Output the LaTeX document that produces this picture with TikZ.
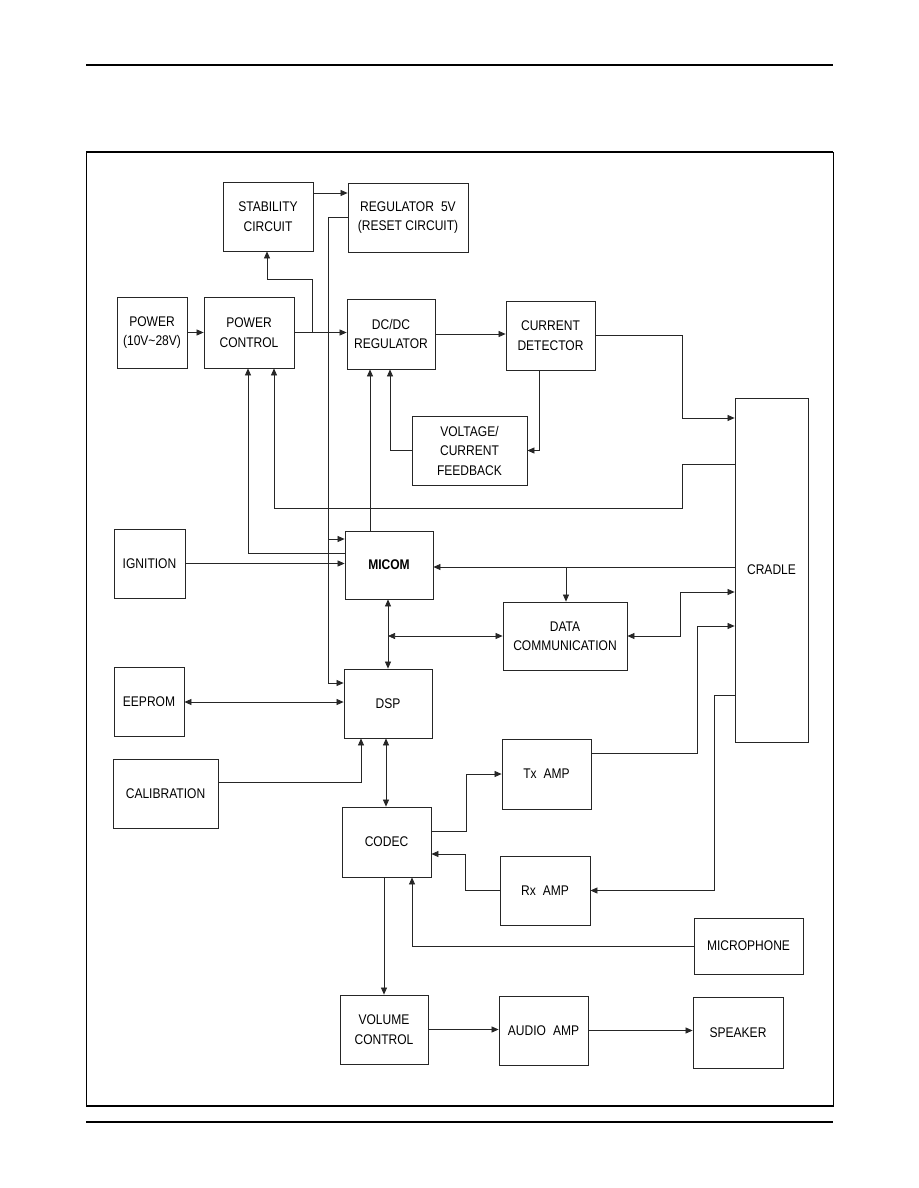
\documentclass[tikz,border=0pt]{standalone}
\usepackage{fontspec}
\setmainfont{Liberation Sans}[FakeStretch=0.86]
\usetikzlibrary{arrows.meta}
\begin{document}
\begin{tikzpicture}[x=1pt,y=-1pt,
  blk/.style={draw=black!85, line width=0.8pt, align=center, inner sep=0pt,
    font=\fontsize{14}{19.5}\selectfont},
  arr/.style={draw=black!85, line width=0.75pt, -{Triangle[length=7pt,width=6pt]}},
  arrb/.style={draw=black!85, line width=0.75pt, {Triangle[length=7pt,width=6pt]}-{Triangle[length=7pt,width=6pt]}},
  ln/.style={draw=black!85, line width=0.75pt}]
\useasboundingbox (0,0) rectangle (918,1188);
% page rules and frame
\draw[line width=1.4pt] (86,65) -- (833,65);
\draw[line width=1.4pt] (86,1122) -- (833,1122);
\draw[line width=1pt] (86,152) rectangle (833,1106);
\draw[line width=2.2pt] (86,152) -- (833,152);
\draw[line width=2.2pt] (86,1106) -- (833,1106);
% blocks
\node[blk, minimum width=90, minimum height=69] (stab) at (268,216.5) {STABILITY\\CIRCUIT};
\node[blk, minimum width=120, minimum height=69] (reg5) at (408,217.5) {REGULATOR\enspace 5V\\(RESET CIRCUIT)};
\node[blk, minimum width=70, minimum height=71] (power) at (152,332.5) {POWER\\(10V\textasciitilde 28V)};
\node[blk, minimum width=90, minimum height=71] (pctl) at (249,332.5) {POWER\\CONTROL};
\node[blk, minimum width=88, minimum height=70] (dcdc) at (391,334) {DC/DC\\REGULATOR};
\node[blk, minimum width=89, minimum height=69] (curdet) at (550.5,335.5) {CURRENT\\DETECTOR};
\node[blk, minimum width=115, minimum height=69] (fb) at (469.5,450.5) {VOLTAGE/\\CURRENT\\FEEDBACK};
\node[blk, minimum width=73, minimum height=344] (cradle) at (771.5,570) {CRADLE};
\node[blk, minimum width=71, minimum height=69] (ign) at (149.5,563.5) {IGNITION};
\node[blk, minimum width=88, minimum height=68] (micom) at (389,565) {\bfseries MICOM};
\node[blk, minimum width=70, minimum height=69] (eeprom) at (149,701.5) {EEPROM};
\node[blk, minimum width=88, minimum height=69] (dsp) at (388,703.5) {DSP};
\node[blk, minimum width=124, minimum height=68] (datac) at (565,636) {DATA\\COMMUNICATION};
\node[blk, minimum width=105, minimum height=69] (calib) at (165.5,793.5) {CALIBRATION};
\node[blk, minimum width=89, minimum height=70] (codec) at (386.5,842) {CODEC};
\node[blk, minimum width=89, minimum height=70] (tx) at (546.5,774) {Tx\enspace AMP};
\node[blk, minimum width=90, minimum height=69] (rx) at (545,890.5) {Rx\enspace AMP};
\node[blk, minimum width=109, minimum height=56] (mic) at (748.5,946) {MICROPHONE};
\node[blk, minimum width=88, minimum height=69] (vol) at (384,1029.5) {VOLUME\\CONTROL};
\node[blk, minimum width=89, minimum height=69] (audio) at (543.5,1030.5) {AUDIO\enspace AMP};
\node[blk, minimum width=90, minimum height=71] (spk) at (738,1032.5) {SPEAKER};
% connectors
\draw[arr] (power.east) -- (pctl.west);
\draw[arr] (pctl.east) -- (pctl.east -| dcdc.west);
\draw[arr] (312,332.5) -- (312,279) -- (267,279) -- (267,279 |- stab.south);
\draw[arr] (stab.east |- 0,193) -- (reg5.west |- 0,193);
\draw[arr] (reg5.west |- 0,217) -| (328,683) -- (dsp.west |- 0,683);
\draw[arr] (328,539) -- (micom.west |- 0,539);
\draw[arr] (micom.west |- 0,553) -| (pctl.south -| 248,0);
\draw[arr] (cradle.west |- 0,464) -- (682,464) -- (682,508) -| (pctl.south -| 274,0);
\draw[arr] (micom.north -| 370,0) -- (dcdc.south -| 370,0);
\draw[arr] (fb.west) -| (dcdc.south -| 390,0);
\draw[arr] (dcdc.east) -- (dcdc.east -| curdet.west);
\draw[arr] (curdet.south -| 539,0) |- (fb.east);
\draw[arr] (curdet.east) -| (682,418) -- (cradle.west |- 0,418);
\draw[arr] (ign.east) -- (micom.west |- ign.east);
\draw[arr] (cradle.west |- 0,567) -- (micom.east |- 0,567);
\draw[arr] (566,567) -- (datac.north -| 566,0);
\draw[arrb] (datac.east) -| (680,592) -- (cradle.west |- 0,592);
\draw[arrb] (micom.south -| 388,0) -- (dsp.north -| 388,0);
\draw[arrb] (388,636) -- (datac.west);
\draw[arrb] (eeprom.east |- 0,702) -- (dsp.west |- 0,702);
\draw[arr] (calib.east |- 0,782) -| (dsp.south -| 361,0);
\draw[arrb] (dsp.south -| 386,0) -- (codec.north -| 386,0);
\draw[arr] (codec.east |- 0,831) -- (466,831) |- (tx.west);
\draw[arr] (rx.west) -- (465,890.5) |- (codec.east |- 0,854);
\draw[arr] (tx.east |- 0,753) -| (697,626) -- (cradle.west |- 0,626);
\draw[arr] (cradle.west |- 0,695) -| (714,890.5) -- (rx.east);
\draw[arr] (mic.west) -| (codec.south -| 412,0);
\draw[arr] (codec.south -| 384,0) -- (vol.north -| 384,0);
\draw[arr] (vol.east) -- (vol.east -| audio.west);
\draw[arr] (audio.east) -- (audio.east -| spk.west);
\end{tikzpicture}
\end{document}
